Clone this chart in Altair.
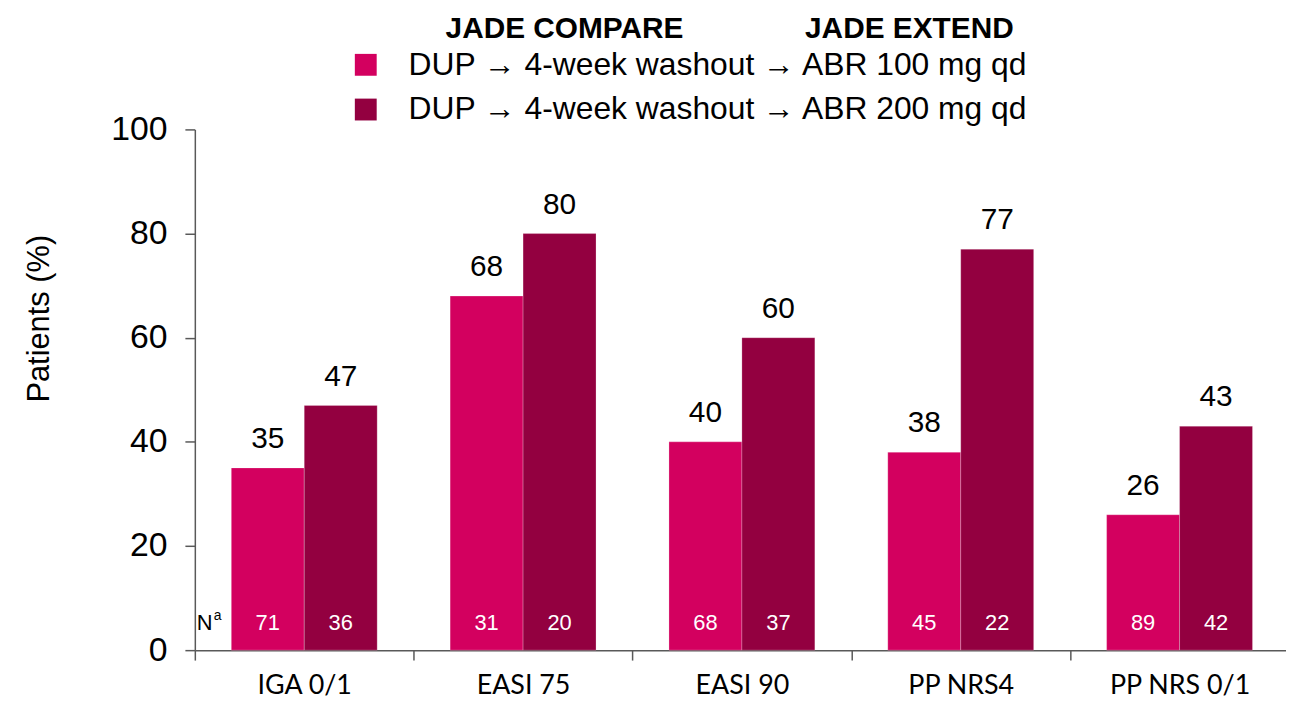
import altair as alt
import pandas as pd

categories = ["IGA 0/1", "EASI 75", "EASI 90", "PP NRS4", "PP NRS 0/1"]
series = [
    "DUP \u2192 4-week washout \u2192 ABR 100 mg qd",
    "DUP \u2192 4-week washout \u2192 ABR 200 mg qd",
]
values_100 = [35, 68, 40, 38, 26]
values_200 = [47, 80, 60, 77, 43]
n_100 = [71, 31, 68, 45, 89]
n_200 = [36, 20, 37, 22, 42]
headers = ["JADE COMPARE", "JADE EXTEND"]
colors = ["#D3005F", "#930040"]
y_ticks = [0, 20, 40, 60, 80, 100]

rows = []
for i, c in enumerate(categories):
    rows.append(dict(cat=c, series=series[0], value=values_100[i], n=n_100[i]))
    rows.append(dict(cat=c, series=series[1], value=values_200[i], n=n_200[i]))
df = pd.DataFrame(rows)

FONT = "Liberation Sans"

base = alt.Chart(df).encode(
    x=alt.X(
        "cat:N",
        sort=categories,
        scale=alt.Scale(paddingInner=0, paddingOuter=0, range=[0, 1101]),
        axis=alt.Axis(
            title=None, labelAngle=0, tickBand="extent", tickSize=10,
            domainColor="#595959", tickColor="#595959", domainWidth=1.5, tickWidth=1.5,
            labelFont="Lato", labelFontSize=27, labelColor="black", labelPadding=13,
        ),
    ),
    xOffset=alt.XOffset("series:N", sort=series,
                        scale=alt.Scale(paddingInner=0, paddingOuter=0.5)),
    y=alt.Y(
        "value:Q",
        scale=alt.Scale(domain=[0, 100]),
        axis=alt.Axis(
            values=y_ticks, grid=False, tickSize=10, labelPadding=18,
            domainColor="#595959", tickColor="#595959", domainWidth=1.5, tickWidth=1.5,
            labelFont=FONT, labelFontSize=34, labelColor="black",
            title="Patients (%)", titleFont=FONT, titleFontSize=31,
            titleFontWeight="normal", titleColor="black",
            titleAngle=-90, titleX=-147, titleY=190,
            titleAlign="center", titleBaseline="alphabetic",
        ),
    ),
)

bars = base.mark_bar(stroke="white", strokeWidth=0.6, strokeOpacity=0.4).encode(
    color=alt.Color(
        "series:N", sort=series,
        scale=alt.Scale(domain=series, range=colors),
        legend=alt.Legend(
            orient="none", legendX=156, legendY=-81, title=None,
            symbolType="square", symbolSize=484, symbolStrokeWidth=0,
            labelFont=FONT, labelFontSize=32, labelColor="black",
            labelOffset=27, rowPadding=13, padding=0, labelLimit=0,
        ),
    )
)

vals = base.mark_text(baseline="alphabetic", dy=-20, fontSize=30, font=FONT,
                      color="black").encode(text="value:Q")

ns = base.mark_text(baseline="alphabetic", dy=-20, fontSize=22, font=FONT,
                    color="white").encode(y=alt.datum(0), text="n:Q")

ann_df = pd.DataFrame({"t": ["N"], "s": ["a"]})
n_main = alt.Chart(ann_df).mark_text(align="left", baseline="alphabetic", dy=-20,
                                     fontSize=22, font=FONT, color="black").encode(
    x=alt.value(2), y=alt.datum(0), text="t:N")
n_sup = alt.Chart(ann_df).mark_text(align="left", baseline="alphabetic", dy=-30,
                                    fontSize=14, font=FONT, color="black").encode(
    x=alt.value(19), y=alt.datum(0), text="s:N")

hdr_df = pd.DataFrame({"h": headers})
h1 = alt.Chart(hdr_df).transform_filter(alt.datum.h == headers[0]).mark_text(
    align="center", baseline="alphabetic", fontSize=30, fontWeight="bold",
    font=FONT, color="black").encode(x=alt.value(372), y=alt.value(-92), text="h:N")
h2 = alt.Chart(hdr_df).transform_filter(alt.datum.h == headers[1]).mark_text(
    align="center", baseline="alphabetic", fontSize=30, fontWeight="bold",
    font=FONT, color="black").encode(x=alt.value(719), y=alt.value(-92), text="h:N")

chart = alt.layer(bars, vals, ns, n_main, n_sup, h1, h2).properties(
    width=1098, height=524,
    autosize=alt.AutoSizeParams(type="none"),
    padding={"left": 188, "top": 120, "right": 0, "bottom": 50},
    background="white",
).configure_view(stroke=None)

chart.save("out.html", embed_options={"renderer": "svg", "actions": False})
